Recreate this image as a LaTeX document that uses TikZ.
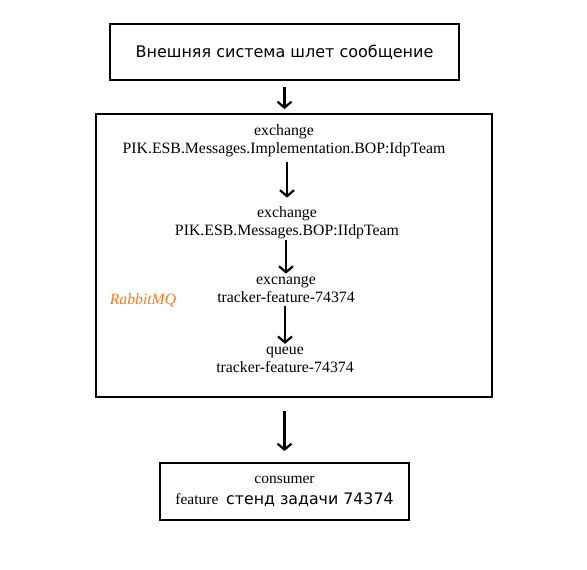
\documentclass[tikz,border=0pt]{standalone}
\usepackage{fontspec}
\setmainfont{Liberation Serif}
\newfontfamily\cyrsans{DejaVu Sans}
\usetikzlibrary{arrows.meta, positioning}
\definecolor{mqorange}{RGB}{255,120,20}
\tikzset{
  framebox/.style={draw, line width=1.8pt, inner sep=0pt, align=center},
  lbl/.style={align=center, font=\fontsize{15.8}{18}\selectfont, inner sep=1pt},
  flowarrow/.style={-{Straight Barb[length=6pt,width=14pt,line width=2.2pt]}, line width=2.2pt},
}
\begin{document}
\begin{tikzpicture}[x=1pt, y=-1pt]
\useasboundingbox (0,0) rectangle (587,570);

% Outer boxes
\node[framebox, minimum width=349pt, minimum height=56pt, font=\cyrsans\fontsize{16}{18}\selectfont] (ext) at (284.5,52) {Внешняя система шлет сообщение};
\node[framebox, minimum width=396pt, minimum height=283pt] (rabbit) at (294,255.5) {};
\node[framebox, minimum width=249pt, minimum height=57pt, font=\fontsize{15.5}{21}\selectfont] (cons) at (284.5,491.5) {consumer\\feature\ \ {\cyrsans\fontsize{15.8}{21}\selectfont стенд задачи 74374}};

% RabbitMQ stages
\node[lbl] (ex1) at (284,141) {exchange\\PIK.ESB.Messages.Implementation.BOP:IdpTeam};
\node[lbl] (ex2) at (287,223) {exchange\\PIK.ESB.Messages.BOP:IIdpTeam};
\node[lbl] (ex3) at (286,290) {excnange\\tracker-feature-74374};
\node[lbl] (q)   at (285,360) {queue\\tracker-feature-74374};
\node[lbl, font=\itshape\fontsize{15.7}{18}\selectfont, text=mqorange] (mq) at (143,300) {RabbitMQ};

% Arrows
\draw[flowarrow, shorten <=6pt, shorten >=4pt] (ext.south) -- (ext.south |- rabbit.north);
\draw[flowarrow, shorten <=4pt, shorten >=8pt] (ex1.south -| ex2) -- (ex2.north);
\draw[flowarrow, shorten <=0pt, shorten >=2pt] (ex2.south -| ex3) -- (ex3.north);
\draw[flowarrow, shorten <=2pt, shorten >=2pt] (ex3.south -| q) -- (q.north);
\draw[flowarrow, shorten <=13pt, shorten >=11pt] (cons.north |- rabbit.south) -- (cons.north);

\end{tikzpicture}
\end{document}
